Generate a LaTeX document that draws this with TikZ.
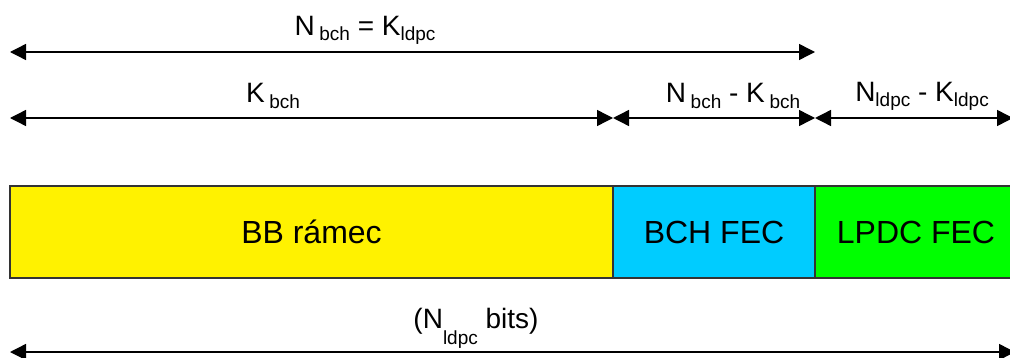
\documentclass[tikz,border=0pt]{standalone}
\usepackage{fontspec}
\setmainfont{Liberation Sans}
\usetikzlibrary{arrows.meta}
\newcommand{\dsub}[1]{\raisebox{-0.35ex}{\fontsize{9.5}{10}\selectfont #1}}
\newcommand{\bbcol}{yellow}
\definecolor{bchblue}{RGB}{0,204,255}
\definecolor{ldpcgreen}{RGB}{0,255,0}
\tikzset{
  lenarrow/.style={draw=black, line width=0.7pt, {Triangle[length=8pt,width=8pt]}-{Triangle[length=8pt,width=8pt]}},
  field/.style={draw=black!80, line width=0.7pt, inner sep=0pt, outer sep=0pt, minimum height=46pt, font=\fontsize{16}{18}\selectfont},
  lbl/.style={font=\fontsize{14}{16}\selectfont, inner sep=1pt}
}
\begin{document}
\begin{tikzpicture}[x=0.5pt, y=-0.5pt]
    \useasboundingbox (0,0) rectangle (1010,358);
    \clip (0,0) rectangle (1010,358);

    \node[field, fill=\bbcol, minimum width=301.5pt] (bb) at (311.5,232) {BB rámec};
    \node[field, fill=bchblue, minimum width=101pt] (bch) at (714,232) {BCH FEC};
    \node[field, fill=ldpcgreen, minimum width=101pt] (ldpc) at (916,232) {LPDC FEC};

    \coordinate (t0) at (10,52);
    \coordinate (t1) at (815,52);
    \coordinate (m0) at (10,118);
    \coordinate (m1) at (613,118);
    \coordinate (m2) at (815,118);
    \coordinate (m3) at (1013,118);
    \coordinate (b0) at (10,352);
    \coordinate (b1) at (1015,352);

    \draw[lenarrow] (t0) -- (t1);
    \draw[lenarrow] (m0) -- (m1);
    \draw[lenarrow] (m1) -- (m2);
    \draw[lenarrow] (m2) -- (m3);
    \draw[lenarrow] (b0) -- (b1);

    \node[lbl] (nbch) at (365,30) {N\,\dsub{bch} = K\dsub{ldpc}};
    \node[lbl] (kbch) at (273,96) {K\,\dsub{bch}};
    \node[lbl] (pbch) at (733,96) {N\,\dsub{bch} - K\,\dsub{bch}};
    \node[lbl] (pldpc) at (922,96) {N\dsub{ldpc} - K\dsub{ldpc}};
    \node[lbl] (nldpc) at (476,328) {(N\raisebox{-1.1ex}{\fontsize{9.5}{10}\selectfont ldpc} bits)};

\end{tikzpicture}
\end{document}
